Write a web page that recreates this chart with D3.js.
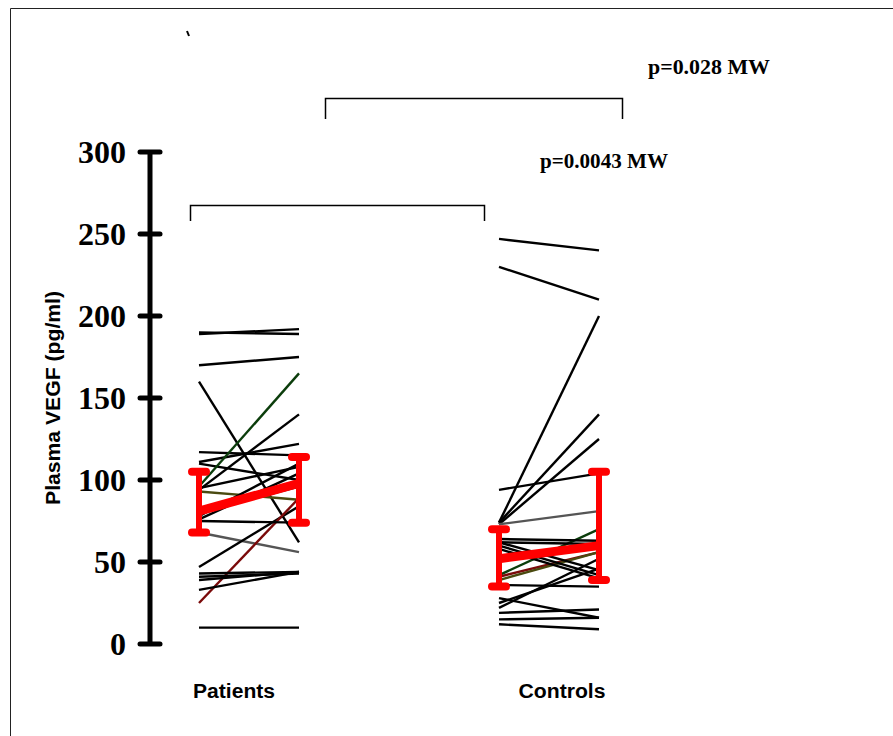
<!DOCTYPE html>
<html>
<head>
<meta charset="utf-8">
<script src="https://cdn.jsdelivr.net/npm/d3@7"></script>
<style>
  body { margin: 0; background: #fff; }
  svg { display: block; }
</style>
</head>
<body>
<div id="chart"></div>
<script>
// Paired values (pre, post)
const patientPairs = [
  [189, 192], [190, 189], [170, 175], [160, 62], [117, 115], [111, 122],
  [110, 100], [94, 140], [96, 165], [93, 88], [68, 56], [47, 84],
  [25, 89], [43, 44], [41, 43], [39, 44], [33, 44], [10, 10],
  [75, 74], [78, 110], [76, 104], [80, 96], [95, 108]
];
const patientColors = [
  "#000", "#000", "#000", "#000", "#000", "#000",
  "#000", "#000", "#0b3d0b", "#4a4a10", "#555", "#000",
  "#7a0a0a", "#000", "#000", "#000", "#000", "#000",
  "#000", "#000", "#000", "#000", "#000"
];
const controlPairs = [
  [247, 240], [230, 210], [74, 200], [74, 140], [73, 125], [94, 104],
  [73, 81], [42, 70], [41, 56], [39, 56], [64, 63], [62, 61],
  [60, 42], [58, 40], [36, 35], [28, 16], [22, 52], [19, 21],
  [15, 16], [12, 9], [62, 45], [25, 46]
];
const controlColors = [
  "#000", "#000", "#000", "#000", "#000", "#000",
  "#555", "#0b3d0b", "#7a0a0a", "#4a4a10", "#000", "#000",
  "#000", "#000", "#000", "#000", "#000", "#000",
  "#000", "#000", "#000", "#000"
];
// group summaries: mean, lower, upper (pre and post)
const patientMean = [81, 98];
const patientLow = [68, 74];
const patientHigh = [105, 114];
const controlMean = [52, 60];
const controlLow = [35, 39];
const controlHigh = [70, 105];

const yTicks = [0, 50, 100, 150, 200, 250, 300];
const groupLabels = ["Patients", "Controls"];
const slots = ["P0", "P1", "gap", "C0", "C1"];

const width = 893, height = 736;

const svg = d3.select("#chart").append("svg")
  .attr("width", width)
  .attr("height", height);

// frame
svg.append("path")
  .attr("d", `M10.5,${height} V8.5 H${width}`)
  .attr("fill", "none")
  .attr("stroke", "#222")
  .attr("stroke-width", 1);

const x = d3.scalePoint().domain(slots).range([199, 599]);
const y = d3.scaleLinear().domain([0, 300]).range([644, 152]);

// y axis
const axisX = 150;
svg.append("line")
  .attr("x1", axisX).attr("x2", axisX)
  .attr("y1", y(300)).attr("y2", y(0))
  .attr("stroke", "#000").attr("stroke-width", 5);

svg.selectAll(".tick")
  .data(yTicks)
  .join("line")
  .attr("class", "tick")
  .attr("x1", axisX - 10).attr("x2", axisX + 10)
  .attr("y1", d => y(d)).attr("y2", d => y(d))
  .attr("stroke", "#000").attr("stroke-width", 5)
  .attr("stroke-linecap", "round");

svg.selectAll(".tlabel")
  .data(yTicks)
  .join("text")
  .attr("class", "tlabel")
  .attr("x", 126)
  .attr("y", d => y(d) + 11)
  .attr("text-anchor", "end")
  .attr("font-family", "Liberation Serif, Times New Roman, serif")
  .attr("font-weight", "bold")
  .attr("font-size", 32)
  .text(d => d);

svg.append("text")
  .attr("transform", `translate(60,398) rotate(-90)`)
  .attr("text-anchor", "middle")
  .attr("font-family", "Liberation Sans, Arial, sans-serif")
  .attr("font-weight", "bold")
  .attr("font-size", 20)
  .attr("textLength", 214)
  .attr("lengthAdjust", "spacingAndGlyphs")
  .text("Plasma VEGF (pg/ml)");

// paired lines
function drawPairs(pairs, colors, a, b) {
  svg.append("g").selectAll("line")
    .data(pairs)
    .join("line")
    .attr("x1", x(a)).attr("x2", x(b))
    .attr("y1", d => y(d[0])).attr("y2", d => y(d[1]))
    .attr("stroke", (d, i) => colors[i])
    .attr("stroke-width", 2.4);
}
drawPairs(patientPairs, patientColors, "P0", "P1");
drawPairs(controlPairs, controlColors, "C0", "C1");

// mean and error bars
function drawSummary(mean, low, high, a, b) {
  const g = svg.append("g");
  const xs = [x(a), x(b)];
  xs.forEach((xx, i) => {
    g.append("line")
      .attr("x1", xx).attr("x2", xx)
      .attr("y1", y(low[i])).attr("y2", y(high[i]))
      .attr("stroke", "red").attr("stroke-width", 6);
    [low[i], high[i]].forEach(v => {
      g.append("line")
        .attr("x1", xx - 7).attr("x2", xx + 7)
        .attr("y1", y(v)).attr("y2", y(v))
        .attr("stroke", "red").attr("stroke-width", 8)
        .attr("stroke-linecap", "round");
    });
  });
  g.append("line")
    .attr("x1", xs[0]).attr("x2", xs[1])
    .attr("y1", y(mean[0])).attr("y2", y(mean[1]))
    .attr("stroke", "red").attr("stroke-width", 9);
}
drawSummary(patientMean, patientLow, patientHigh, "P0", "P1");
drawSummary(controlMean, controlLow, controlHigh, "C0", "C1");

// group labels
svg.selectAll(".glabel")
  .data(groupLabels)
  .join("text")
  .attr("class", "glabel")
  .attr("x", (d, i) => i === 0 ? (x("P0") + x("P1")) / 2 - 15 : (x("C0") + x("C1")) / 2 + 13)
  .attr("y", 698)
  .attr("text-anchor", "middle")
  .attr("font-family", "Liberation Sans, Arial, sans-serif")
  .attr("font-weight", "bold")
  .attr("font-size", 20)
  .attr("textLength", (d, i) => i === 0 ? 82 : 87)
  .attr("lengthAdjust", "spacingAndGlyphs")
  .text(d => d);

// significance brackets
function bracket(x1, x2, yTop, yBot) {
  svg.append("path")
    .attr("d", `M${x1},${yBot} V${yTop} H${x2} V${yBot}`)
    .attr("fill", "none")
    .attr("stroke", "#000")
    .attr("stroke-width", 1.5);
}
bracket(190.5, 484.5, 205.5, 221);
bracket(325.5, 622.5, 98.5, 119);

svg.append("text")
  .attr("x", 648).attr("y", 74)
  .attr("font-family", "Liberation Serif, Times New Roman, serif")
  .attr("font-weight", "bold")
  .attr("font-size", 20)
  .attr("textLength", 122)
  .attr("lengthAdjust", "spacingAndGlyphs")
  .text("p=0.028 MW");

svg.append("text")
  .attr("x", 540).attr("y", 168)
  .attr("font-family", "Liberation Serif, Times New Roman, serif")
  .attr("font-weight", "bold")
  .attr("font-size", 20)
  .attr("textLength", 128)
  .attr("lengthAdjust", "spacingAndGlyphs")
  .text("p=0.0043 MW");

// stray mark near the top
svg.append("line")
  .attr("x1", 187).attr("x2", 189)
  .attr("y1", 31).attr("y2", 36)
  .attr("stroke", "#000").attr("stroke-width", 2);
</script>
</body>
</html>
